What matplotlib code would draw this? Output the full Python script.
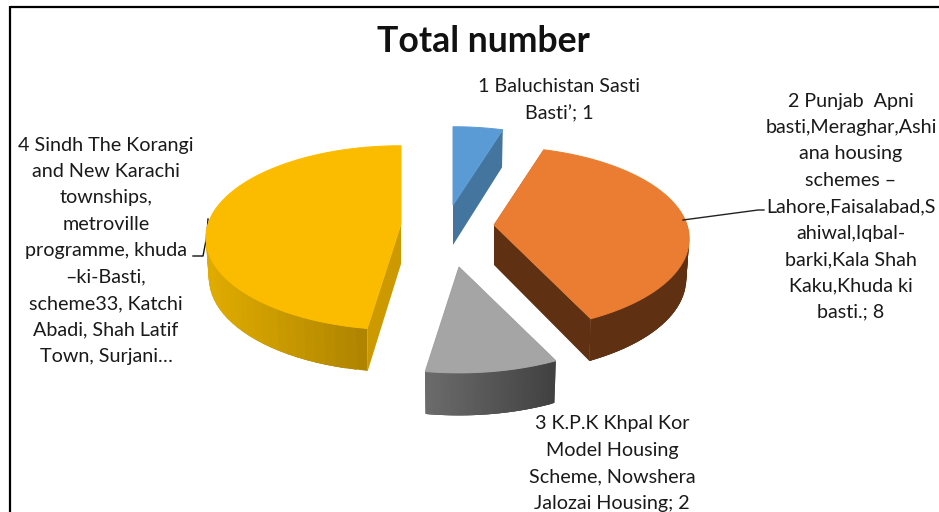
import numpy as np
import matplotlib
matplotlib.use("Agg")
import matplotlib.pyplot as plt
from matplotlib.colors import to_rgb

TITLE = "Total number"
values = [1, 8, 2, 10]
top_colors = ["#5B9BD5", "#EA7D31", "#A5A5A5", "#FBBC00"]
cut_colors = ["#44759F", "#5F3112", "#5A5A5A", "#CC9900"]
wall_left = ["#44759F", "#5F3112", "#6B6B6B", "#E0AC00"]
wall_right = ["#44759F", "#5F3112", "#404040", "#9E7700"]
apex_x = [453, 494, 459, 401]
apex_y = [205, 225, 267, 224]
labels = [
    ["1 Baluchistan Sasti", "Basti’; 1"],
    ["2 Punjab  Apni", "basti,Meraghar,Ashi", "ana housing", "schemes –",
     "Lahore,Faisalabad,S", "ahiwal,Iqbal-", "barki,Kala Shah", "Kaku,Khuda ki", "basti.; 8"],
    ["3 K.P.K Khpal Kor", "Model Housing", "Scheme, Nowshera", "Jalozai Housing; 2"],
    ["4 Sindh The Korangi", "and New Karachi", "townships,", "metroville",
     "programme, khuda", "–ki-Basti,", "scheme33, Katchi", "Abadi, Shah Latif", "Town, Surjani…"],
]
label_x = [559, 851, 612, 106]
label_y = [87, 101, 424, 145]
LINE_PITCH = 26.4

plt.rcParams["font.family"] = ["Lato", "DejaVu Sans"]
fig = plt.figure(figsize=(9.39, 5.12), dpi=100)
ax = fig.add_axes([0, 0, 1, 1])
ax.set_xlim(0, 939)
ax.set_ylim(512, 0)
ax.axis("off")

RX, RY, K = 193.0, 90.0, 0.15


def project(theta, depth=False):
    s, c = np.sin(theta), np.cos(theta)
    w = 1 + K * c
    x, y = RX * s / w, -RY * c / w
    if depth:
        x = x * 0.985
        y = y + 40 - 2.5 * c
    return x, y


edges = np.cumsum([0] + values) / sum(values) * 2 * np.pi

for i in [0, 1, 3, 2]:
    cx, cy = apex_x[i], apex_y[i]
    t0, t1 = edges[i], edges[i + 1]
    # cut faces
    for t in (t0, t1):
        x, y = project(t)
        xb, yb = project(t, True)
        ax.fill([cx, cx + x, cx + xb, cx], [cy, cy + y, cy + yb, cy + 40],
                color=cut_colors[i], lw=0, zorder=i * 3 + 1)
    # outer wall, shaded in overlapping strips so that no seams show
    ts = np.linspace(t0, t1, 61)
    px = [project(t)[0] for t in ts]
    lo, hi = min(px), max(px)
    cl, cr = np.array(to_rgb(wall_left[i])), np.array(to_rgb(wall_right[i]))
    for k in range(len(ts) - 1):
        a, b = ts[k], ts[min(k + 3, len(ts) - 1)]
        if np.cos(a) > 0.1 and np.cos(b) > 0.1:
            continue  # faces away from the viewer
        xa, ya = project(a)
        xb, yb = project(b)
        xa2, ya2 = project(a, True)
        xb2, yb2 = project(b, True)
        f = np.clip(((xa + xb) / 2 - lo) / (hi - lo), 0, 1)
        col = cl + (cr - cl) * f
        ax.fill([cx + xa, cx + xb, cx + xb2, cx + xa2], [cy + ya, cy + yb, cy + yb2, cy + ya2],
                color=col, lw=0, zorder=i * 3 + 2)
    # top face
    tx, ty = zip(*[project(t) for t in ts])
    ax.fill(np.r_[0, tx] + cx, np.r_[0, ty] + cy, color=top_colors[i], lw=0.7, zorder=i * 3 + 3)

# leader lines
ax.plot([683, 758, 764], [220, 210, 210], color="#222222", lw=1.0, zorder=20)
ax.plot([193, 203, 207, 208], [256, 256, 235, 219], color="#111111", lw=1.0, zorder=5)

for lines, x, y in zip(labels, label_x, label_y):
    for n, line in enumerate(lines):
        ax.text(x, y + n * LINE_PITCH, line, ha="center", va="center",
                fontsize=14.2, color="#1a1a1a", zorder=30)

ax.text(483, 42, TITLE, ha="center", va="center", fontsize=25.7, fontweight="bold",
        color="#111111", zorder=30)

# chart frame, top and left edges
ax.plot([10, 939], [7, 7], color="black", lw=1.6, solid_capstyle="butt", zorder=40)
ax.plot([10, 10], [6, 512], color="black", lw=1.6, solid_capstyle="butt", zorder=40)

fig.savefig("out.png", dpi=100)
